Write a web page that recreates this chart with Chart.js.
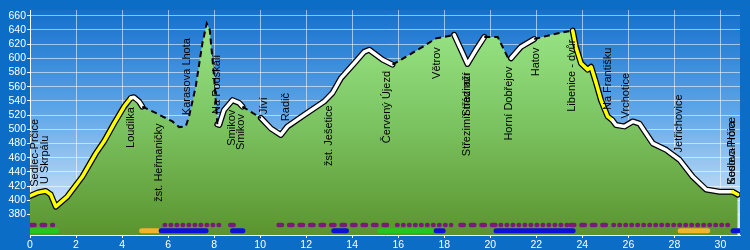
<!DOCTYPE html>
<html>
<head>
<meta charset="utf-8">
<script src="https://cdn.jsdelivr.net/npm/chart.js@4.4.1/dist/chart.umd.min.js"></script>
<style>
html, body { margin: 0; padding: 0; background: #0b6dc6; }
</style>
</head>
<body>
<canvas id="profil" width="750" height="250"></canvas>
<script>
"use strict"

// profil trasy
const km  = [0, 0.35, 0.68, 0.9, 1.12, 1.62, 2.27, 2.86, 3.22, 3.65, 4.09, 4.38, 4.52, 4.74, 4.88, 5.46, 6.19, 6.48, 6.77, 6.91,
             7.2, 7.49, 7.68, 7.81, 8.0, 8.14, 8.22, 8.43, 8.8, 9.09, 9.23, 9.67, 10.03, 10.47, 10.9, 11.19, 11.91, 12.78, 13.14, 13.51,
             14.09, 14.52, 14.74, 15.32, 15.75, 16.33, 17.06, 17.64, 18.14, 18.43, 18.73, 19.01, 19.38, 19.74, 20.32, 20.75, 20.9, 21.33, 21.91, 22.64,
             23.22, 23.58, 23.72, 23.94, 24.23, 24.38, 24.6, 24.81, 25.1, 25.3, 25.46, 25.83, 26.19, 26.48, 27.06, 27.64, 28.22, 28.8, 29.38, 29.96,
             30.53, 30.75]
const ele = [406, 411, 413, 408, 391, 405, 433, 466, 483, 508, 532, 544, 545, 539, 532, 523, 511, 503, 504, 518,
             560, 621, 649, 640, 574, 507, 506, 527, 541, 537, 532, 523, 516, 501, 492, 504, 520, 539, 551, 572,
             593, 609, 612, 598, 591, 602, 616, 628, 631, 633, 612, 592, 612, 630, 630, 602, 600, 616, 627, 633,
             637, 639, 616, 593, 584, 588, 565, 541, 518, 513, 506, 504, 511, 508, 480, 471, 457, 433, 415, 412,
             412, 408]
// typ úseku od bodu i: y = žlutá, w = bílá, d = čárkovaná
const kind = ["y","y","y","y","y","y","y","y","y","y","y","w","w","w","d","d","d","d","d","d",
              "d","d","d","d","d","w","w","w","w","w","d","d","w","w","w","w","w","w","w","w",
              "w","w","w","w","d","d","d","d","d","w","w","w","w","d","d","d","w","w","d","d",
              "d","y","y","y","y","y","y","y","y","w","w","w","w","w","w","w","w","w","w","w",
              "y","y"]

// popisky míst
const placeNames = ["Sedlec-Prčice", "U Skrpálu", "Loudilka", "žst. Heřmaničky", "Karasova Lhota", "Na Podskalí", "Smikov", "Smikov",
                    "Jíví", "Radič", "žst. Ješetice", "Červený Újezd", "Větrov", "Střezimír", "Střezimír nádraží", "Horní Dobřejov",
                    "Hatov", "Libenice - dvůr", "Na Františku", "Vrchotice", "Jetřichovice", "Sedlec-Prčice", "Kosova Hora"]
const placeKm = [0.22, 0.67, 4.38, 5.6, 6.83, 8.13, 8.78, 9.17,
                 10.17, 11.13, 13.0, 15.52, 17.7, 19.0, 19.0, 20.83,
                 22.0, 23.57, 25.13, 25.9, 28.2, 30.5, 30.5]

// pásky dole (od km, do km)
const purpleDash = [[0.05, 1.0], [8.7, 8.95], [10.8, 15.8], [18.7, 20.3], [23.5, 25.25]]
const purpleDot  = [[5.85, 8.3], [15.95, 18.3], [20.45, 23.4], [25.35, 30.45]]
const blueBars   = [[5.7, 7.65], [8.8, 9.25], [13.2, 13.75], [17.65, 17.95], [20.25, 23.6], [30.55, 30.85]]
const greenBars  = [[0.05, 1.15], [15.2, 17.45]]
const orangeBars = [[4.85, 5.55], [28.25, 29.45]]

const yTicks = [380, 400, 420, 440, 460, 480, 500, 520, 540, 560, 580, 600, 620, 640, 660]
const xTicks = [0, 2, 4, 6, 8, 10, 12, 14, 16, 18, 20, 22, 24, 26, 28, 30]

const dotRow = 365
const barRow = 357

const profile = km.map((k, i) => ({x: k, y: ele[i]}))

function spans(list, level) {
    let out = []
    list.forEach(s => {
        out.push({x: s[0], y: level}, {x: s[1], y: level}, {x: s[1], y: null})
    })
    return out
}

function eleAt(k) {
    for (let i = 1; i < km.length; i++) {
        if (k <= km[i]) {
            let t = (k - km[i - 1]) / (km[i] - km[i - 1])
            return ele[i - 1] + t * (ele[i] - ele[i - 1])
        }
    }
    return ele[ele.length - 1]
}

const clear = "rgba(0,0,0,0)"
const font = '"Liberation Sans", Arial, sans-serif'

const background = {
    id: "background",
    beforeDraw(chart) {
        const {ctx, chartArea: a} = chart
        ctx.save()
        ctx.fillStyle = "#0b6dc6"
        ctx.fillRect(0, 0, chart.width, chart.height)
        let g = ctx.createLinearGradient(0, a.top, 0, a.bottom)
        g.addColorStop(0, "#1470cc")
        g.addColorStop(0.45, "#5ea6e8")
        g.addColorStop(0.85, "#c4def6")
        g.addColorStop(1, "#e4f1fc")
        ctx.fillStyle = g
        ctx.fillRect(a.left, a.top, a.right - a.left, a.bottom - a.top)
        ctx.restore()
    }
}

const placeLabels = {
    id: "placeLabels",
    afterDatasetsDraw(chart) {
        const {ctx, scales: {x, y}} = chart
        ctx.save()
        ctx.font = "11px " + font
        ctx.fillStyle = "#000"
        ctx.textBaseline = "middle"
        placeNames.forEach((name, i) => {
            let e = eleAt(placeKm[i])
            let px = x.getPixelForValue(placeKm[i])
            let py = y.getPixelForValue(e)
            let up = e < 519
            ctx.save()
            ctx.translate(px, up ? py - 7 : py + 9)
            ctx.rotate(-Math.PI / 2)
            ctx.textAlign = up ? "left" : "right"
            ctx.fillText(name, 0, 0)
            ctx.restore()
        })
        ctx.restore()
    }
}

const green = ctx => {
    const a = ctx.chart.chartArea
    if (!a) return "#7cc462"
    let g = ctx.chart.ctx.createLinearGradient(0, a.top, 0, a.bottom)
    g.addColorStop(0, "#9ce98a")
    g.addColorStop(0.5, "#7cc462")
    g.addColorStop(1, "#5a942e")
    return g
}

new Chart(document.getElementById("profil"), {
    type: "line",
    data: {
        datasets: [
            { // výplň
                data: profile, order: 6, fill: "start", backgroundColor: green,
                borderWidth: 0, borderColor: clear, pointRadius: 0
            },
            { // černý okraj
                data: profile, order: 5, fill: false, borderWidth: 6, pointRadius: 0,
                borderJoinStyle: "round", borderCapStyle: "round",
                segment: { borderColor: c => kind[c.p0DataIndex] === "d" ? clear : "#000" }
            },
            { // bílá / žlutá
                data: profile, order: 4, fill: false, borderWidth: 3.5, pointRadius: 0,
                borderJoinStyle: "round", borderCapStyle: "round",
                segment: { borderColor: c => kind[c.p0DataIndex] === "y" ? "#ffff00" : kind[c.p0DataIndex] === "w" ? "#fff" : clear }
            },
            { // čárkovaná
                data: profile, order: 3, fill: false, borderWidth: 2, pointRadius: 0,
                borderDash: [6, 4],
                segment: { borderColor: c => kind[c.p0DataIndex] === "d" ? "#000" : clear }
            },
            { data: spans(purpleDash, dotRow), order: 1, borderColor: "#7b1a7b", borderWidth: 4.5, borderCapStyle: "round", borderDash: [3.5, 7], pointRadius: 0, spanGaps: false },
            { data: spans(purpleDot, dotRow), order: 1, borderColor: "#7b1a7b", borderWidth: 4.5, borderCapStyle: "round", borderDash: [0.5, 5.5], pointRadius: 0, spanGaps: false },
            { data: spans(blueBars, barRow), order: 2, borderColor: "#0a12d8", borderWidth: 5, borderCapStyle: "round", pointRadius: 0, spanGaps: false },
            { data: spans(greenBars, barRow), order: 2, borderColor: "#22c81e", borderWidth: 5, borderCapStyle: "round", pointRadius: 0, spanGaps: false },
            { data: spans(orangeBars, barRow), order: 2, borderColor: "#f2b42a", borderWidth: 5, borderCapStyle: "round", pointRadius: 0, spanGaps: false }
        ]
    },
    options: {
        responsive: false,
        animation: false,
        layout: { padding: { top: 10, right: 10, left: 0, bottom: 0 } },
        plugins: { legend: { display: false }, tooltip: { enabled: false } },
        scales: {
            x: {
                type: "linear", min: 0, max: 30.85,
                afterBuildTicks: s => { s.ticks = xTicks.map(v => ({value: v})) },
                afterFit: s => { s.height = 15 },
                grid: { color: "rgba(255,255,255,0.55)", tickColor: "#fff", tickLength: 3 },
                border: { color: "#fff" },
                ticks: { color: "#fff", font: { family: font, size: 10.5 }, padding: 1, maxRotation: 0 }
            },
            y: {
                min: 351, max: 668,
                afterBuildTicks: s => { s.ticks = yTicks.map(v => ({value: v})) },
                afterFit: s => { s.width = 30 },
                grid: { color: "rgba(255,255,255,0.55)", tickColor: "#fff", tickLength: 3 },
                border: { color: "#fff" },
                ticks: { color: "#fff", font: { family: font, size: 10.5 }, padding: 1 }
            }
        }
    },
    plugins: [background, placeLabels]
})
</script>
</body>
</html>
